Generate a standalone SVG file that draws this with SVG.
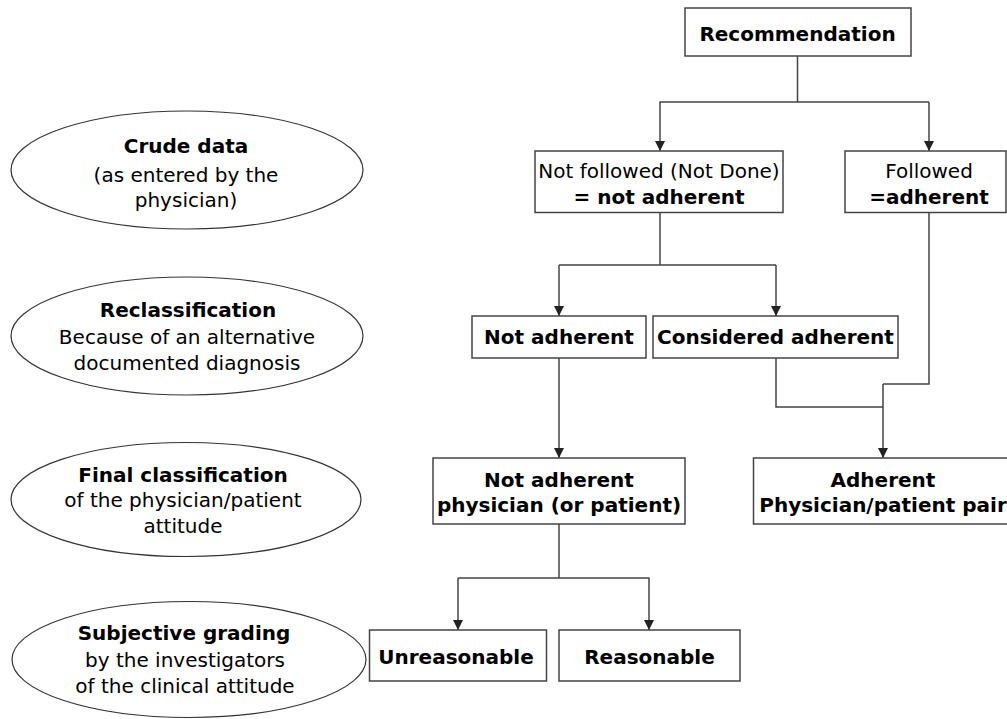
<svg xmlns="http://www.w3.org/2000/svg" width="1007" height="719" viewBox="0 0 1007 719">
<defs>
<marker id="arr" viewBox="0 0 10 12" refX="10" refY="6" markerWidth="10" markerHeight="12" markerUnits="userSpaceOnUse" orient="auto">
<path d="M0,1 L10,6 L0,11 Z" fill="#222"/>
</marker>
</defs>
<style>
text{font-family:"DejaVu Sans",Verdana,sans-serif;font-size:20px;fill:#000;text-anchor:middle}
.b{font-weight:bold}
.box{fill:#fff;stroke:#444;stroke-width:1.5}
.ell{fill:#fff;stroke:#333;stroke-width:1.2}
.c{fill:none;stroke:#444;stroke-width:1.5}
.a{marker-end:url(#arr)}
</style>
<rect width="1007" height="719" fill="#fff"/>
<g id="connectors">
<path class="c" d="M797.5,56 V102 M659.5,102 H929"/>
<path class="c a" d="M660,102 V151"/>
<path class="c a" d="M929,102 V151"/>
<path class="c" d="M660,212 V265 M559,265 H776"/>
<path class="c a" d="M559,265 V316"/>
<path class="c a" d="M776,265 V316"/>
<path class="c" d="M929,212 V384 H883 M776,358 V407 H883"/>
<path class="c a" d="M883,384 V458"/>
<path class="c a" d="M559,358 V458"/>
<path class="c" d="M559,524 V578 M458,578 H649.5"/>
<path class="c a" d="M458,578 V630"/>
<path class="c a" d="M649,578 V630"/>
</g>
<g id="e1"><ellipse class="ell" cx="187" cy="170" rx="176" ry="59"/>
<text x="186" y="153" class="b">Crude data</text><text x="186" y="182">(as entered by the</text><text x="186" y="207">physician)</text></g>
<g id="e2"><ellipse class="ell" cx="187" cy="336" rx="176" ry="59"/>
<text x="188" y="317" class="b">Reclassification</text><text x="187" y="344">Because of an alternative</text><text x="187" y="370">documented diagnosis</text></g>
<g id="e3"><ellipse class="ell" cx="186" cy="499.5" rx="175" ry="57"/>
<text x="183" y="482" class="b">Final classification</text><text x="183" y="507">of the physician/patient</text><text x="183" y="533">attitude</text></g>
<g id="e4"><ellipse class="ell" cx="189" cy="659.5" rx="177" ry="58"/>
<text x="184" y="640" class="b">Subjective grading</text><text x="185" y="667">by the investigators</text><text x="185" y="693">of the clinical attitude</text></g>
<g id="n1"><rect class="box" x="685" y="8" width="226" height="48"/><text x="797.5" y="41" class="b">Recommendation</text></g>
<g id="n2"><rect class="box" x="535" y="151" width="248" height="61.5"/><text x="659" y="178">Not followed (Not Done)</text><text x="659" y="204" class="b">= not adherent</text></g>
<g id="n3"><rect class="box" x="845" y="151" width="161" height="61.5"/><text x="929" y="178">Followed</text><text x="929" y="204" class="b">=adherent</text></g>
<g id="n4"><rect class="box" x="472" y="316" width="174" height="42"/><text x="559" y="344" class="b">Not adherent</text></g>
<g id="n5"><rect class="box" x="653" y="316" width="245" height="42"/><text x="775.5" y="344" class="b">Considered adherent</text></g>
<g id="n6"><rect class="box" x="433" y="458" width="252" height="66"/><text x="559" y="487" class="b">Not adherent</text><text x="559" y="512" class="b">physician (or patient)</text></g>
<g id="n7"><rect class="box" x="753.5" y="458" width="262" height="66"/><text x="883" y="487" class="b">Adherent</text><text x="883" y="512" class="b">Physician/patient pair</text></g>
<g id="n8"><rect class="box" x="369.5" y="630" width="177" height="51"/><text x="456" y="664" class="b">Unreasonable</text></g>
<g id="n9"><rect class="box" x="559" y="630" width="181" height="51"/><text x="649.5" y="664" class="b">Reasonable</text></g>
</svg>
